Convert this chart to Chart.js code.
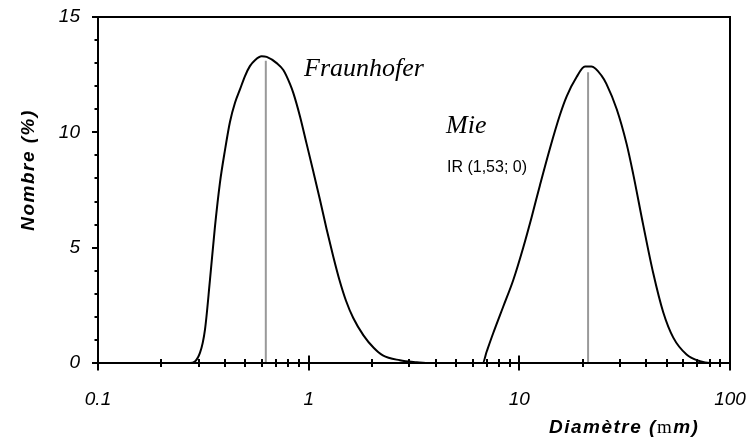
<!DOCTYPE html>
<html>
<head>
<meta charset="utf-8">
<script src="https://cdn.jsdelivr.net/npm/chart.js@4/dist/chart.umd.min.js"></script>
<style>
  html, body { margin: 0; padding: 0; background: #fff; }
  #wrap { width: 747px; height: 439px; }
</style>
</head>
<body>
<div id="wrap"><canvas id="c" width="747" height="439"></canvas></div>
<script>
// ---- Data ----
const fraunhoferD = [0.25, 0.273, 0.305, 0.322, 0.340, 0.359, 0.379, 0.401, 0.423, 0.447, 0.472, 0.498, 0.526, 0.556, 0.598, 0.632, 0.705, 0.758, 0.815, 0.846, 0.909, 0.978, 1.052, 1.13, 1.217, 1.31, 1.40, 1.504, 1.628, 1.82, 2.04, 2.25, 2.71, 3.26, 3.6];
const fraunhoferN = [0, 0, 0.45, 1.45, 3.6, 5.9, 7.8, 9.25, 10.45, 11.28, 11.86, 12.43, 12.87, 13.13, 13.3, 13.27, 13.0, 12.7, 12.1, 11.7, 10.7, 9.5, 8.3, 7.1, 5.8, 4.6, 3.6, 2.7, 1.95, 1.2, 0.65, 0.33, 0.12, 0.03, 0];

const mieD = [6.5, 6.7, 7.0, 7.52, 8.39, 9.36, 10.43, 11.42, 12.52, 13.97, 15.58, 16.76, 18.7, 20.5, 22.0, 24.6, 25.9, 29.0, 32.3, 34.7, 38.7, 43.2, 48.2, 53.8, 62.2, 72.0, 80.3, 90];
const mieN = [0, 0, 0.5, 1.3, 2.45, 3.6, 5.0, 6.3, 7.7, 9.3, 10.75, 11.55, 12.4, 12.85, 12.85, 12.45, 12.1, 11.0, 9.5, 8.2, 6.0, 3.9, 2.2, 1.1, 0.37, 0.08, 0, 0];

const peakD = [0.626, 21.2];
const peakN = [13.1, 12.6];

const xTickLabels = ['0.1', '1', '10', '100'];
const yTickLabels = [0, 5, 10, 15];
const seriesNames = ['Fraunhofer', 'Mie'];

// ---- helpers ----
const toPts = (xs, ys) => xs.map((v, i) => ({ x: v, y: ys[i] }));
const decades = xTickLabels.map(Number);
const xTickValues = [];
for (let d = 0; d < decades.length - 1; d++) {
  for (let m = 1; m <= 9; m++) xTickValues.push(m * decades[d]);
}
xTickValues.push(decades[decades.length - 1]);
const isDecade = v => Math.abs(Math.log10(v) - Math.round(Math.log10(v))) < 1e-9;

const decoPlugin = {
  id: 'deco',
  afterDatasetsDraw(chart) {
    const { ctx, chartArea: { left, right, top, bottom }, scales: { x, y } } = chart;
    ctx.save();
    ctx.strokeStyle = '#000';
    ctx.lineWidth = 2;
    ctx.strokeRect(left, top, right - left, bottom - top);
    ctx.beginPath();
    x.ticks.forEach(t => {
      const px = Math.round(x.getPixelForValue(t.value));
      const len = isDecade(t.value) ? 7.5 : 4;
      ctx.moveTo(px, bottom - len);
      ctx.lineTo(px, bottom + len);
    });
    y.ticks.forEach(t => {
      const py = Math.round(y.getPixelForValue(t.value));
      const len = yTickLabels.includes(t.value) ? 6 : 3.5;
      ctx.moveTo(left - len, py);
      ctx.lineTo(left, py);
    });
    ctx.stroke();

    // annotations
    ctx.fillStyle = '#000';
    ctx.textBaseline = 'alphabetic';
    ctx.textAlign = 'left';
    ctx.font = 'italic 26px "Liberation Serif", "Times New Roman", serif';
    ctx.fillText(seriesNames[0], 304, 76);
    ctx.fillText(seriesNames[1], 446, 133);
    ctx.font = '16px "Liberation Sans", Arial, sans-serif';
    ctx.fillText('IR (1,53; 0)', 447, 172);

    // axis titles
    const tf = 'italic bold 19px "Liberation Sans", Arial, sans-serif';
    ctx.letterSpacing = '1.5px';
    ctx.font = tf;
    let cx = 549;
    const by = 433;
    const p1 = 'Diamètre (';
    ctx.fillText(p1, cx, by);
    cx += ctx.measureText(p1).width;
    ctx.font = '19px "Liberation Serif", "Times New Roman", serif';
    ctx.fillText('m', cx, by);
    cx += ctx.measureText('m').width;
    ctx.font = tf;
    ctx.fillText('m)', cx, by);

    ctx.translate(34, 170);
    ctx.rotate(-Math.PI / 2);
    ctx.textAlign = 'center';
    ctx.fillText('Nombre (%)', 0, 0);
    ctx.restore();
  }
};

const tickFont = { family: '"Liberation Sans", Arial, sans-serif', size: 19, style: 'italic' };
const zeroPad = s => { s.paddingLeft = 0; s.paddingRight = 0; s.paddingTop = 0; s.paddingBottom = 0; };

new Chart(document.getElementById('c'), {
  type: 'line',
  data: {
    datasets: [
      { label: seriesNames[0], data: toPts(fraunhoferD, fraunhoferN), borderColor: '#000', borderWidth: 2, pointRadius: 0, cubicInterpolationMode: 'monotone', fill: false },
      { label: seriesNames[1], data: toPts(mieD, mieN), borderColor: '#000', borderWidth: 2, pointRadius: 0, cubicInterpolationMode: 'monotone', fill: false },
      { label: 'peak1', data: [{ x: peakD[0], y: 0 }, { x: peakD[0], y: peakN[0] }], borderColor: '#999', borderWidth: 2, pointRadius: 0, tension: 0 },
      { label: 'peak2', data: [{ x: peakD[1], y: 0 }, { x: peakD[1], y: peakN[1] }], borderColor: '#999', borderWidth: 2, pointRadius: 0, tension: 0 }
    ]
  },
  options: {
    responsive: false,
    animation: false,
    devicePixelRatio: 1,
    layout: { padding: { top: 17, right: 17, left: 0, bottom: 0 } },
    plugins: { legend: { display: false }, tooltip: { enabled: false }, title: { display: false } },
    scales: {
      x: {
        type: 'logarithmic',
        min: 0.1, max: 100,
        grid: { display: false, drawTicks: false },
        border: { display: false },
        afterBuildTicks: s => { s.ticks = xTickValues.map(v => ({ value: v })); },
        afterFit: s => { s.height = 76; zeroPad(s); },
        ticks: {
          autoSkip: false, maxRotation: 0, minRotation: 0,
          padding: 25,
          color: '#000',
          font: tickFont,
          callback: v => isDecade(v) ? xTickLabels[Math.round(Math.log10(v)) + 1] : ''
        }
      },
      y: {
        min: 0, max: 15,
        grid: { display: false, drawTicks: false },
        border: { display: false },
        afterFit: s => { s.width = 98; zeroPad(s); },
        ticks: {
          stepSize: 1,
          autoSkip: false,
          padding: 18,
          color: '#000',
          font: tickFont,
          callback: v => yTickLabels.includes(v) ? String(v) : ''
        }
      }
    }
  },
  plugins: [decoPlugin]
});
</script>
</body>
</html>
